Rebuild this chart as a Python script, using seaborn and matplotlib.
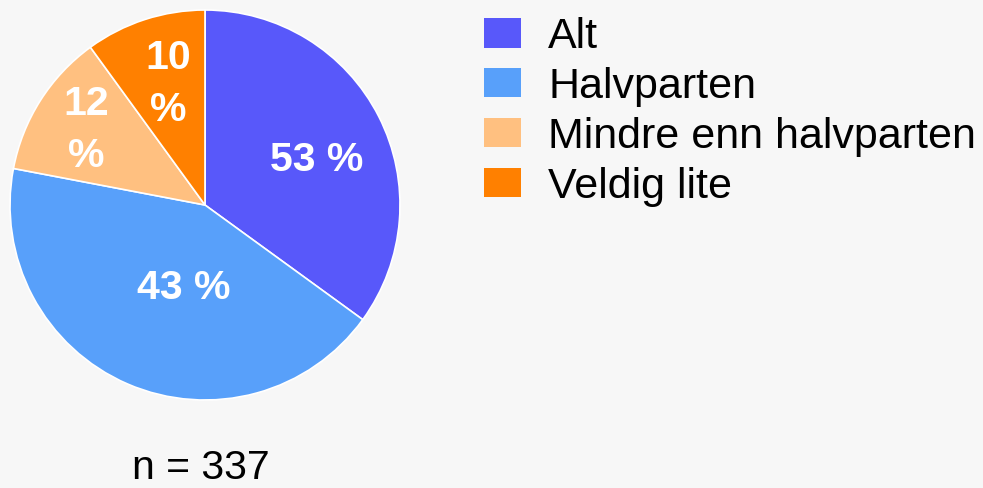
import matplotlib
matplotlib.use("Agg")
import matplotlib.pyplot as plt
import seaborn as sns
import numpy as np

categories = ["Alt", "Halvparten", "Mindre enn halvparten", "Veldig lite"]
values = [35, 43, 12, 10]           # slice sizes as drawn
pct_labels = ["53 %", "43 %", "12\n%", "10\n%"]  # label text as printed
sample_note = "n = 337"

colors = ["#5858FA", "#58A0FA", "#FFC080", "#FF8000"]
bg = "#F7F7F7"

sns.set_theme(style="white")
plt.rcParams["font.family"] = ["Liberation Sans", "DejaVu Sans"]
plt.rcParams["text.color"] = "black"

W, H = 983, 488
fig = plt.figure(figsize=(W / 100, H / 100), dpi=100)
fig.patch.set_facecolor(bg)

cx, cy, r = 205, 205, 195
ax = fig.add_axes([(cx - r) / W, (H - cy - r) / H, 2 * r / W, 2 * r / H])
ax.set_facecolor(bg)

wedges, texts = ax.pie(values, colors=sns.color_palette(colors),
                       startangle=90, counterclock=False, labels=pct_labels,
                       labeldistance=0.65,
                       wedgeprops=dict(edgecolor="white", linewidth=1.2),
                       textprops=dict(color="white", fontsize=29.5, fontweight="bold",
                                      ha="center", va="center", linespacing=1.45))
ax.set_xlim(-1, 1)
ax.set_ylim(-1, 1)
ax.set_aspect("equal")
ax.axis("off")

# per-slice label radius / angle offset (styling)
radii = [0.62, 0.44, 0.72, 0.65]
offsets = [-5, 9, 0, -1]
for w, t, rr, off in zip(wedges, texts, radii, offsets):
    mid = np.deg2rad((w.theta1 + w.theta2) / 2 + off)
    t.set_position((rr * np.cos(mid), rr * np.sin(mid)))
    t.set_multialignment("center")

leg = fig.legend(wedges, categories, loc="upper left",
                 bbox_to_anchor=(484 / W, 1 - 17 / H), frameon=False,
                 fontsize=31, borderpad=0, borderaxespad=0,
                 handlelength=0.86, handleheight=0.67, handletextpad=0.63,
                 labelspacing=0.23)
for h in leg.legend_handles:
    h.set_edgecolor("none")
for t in leg.get_texts():
    t.set_color("black")

fig.text(201 / W, (H - 479) / H, sample_note, ha="center", va="baseline",
         fontsize=29.5, color="black")

fig.savefig("out.png", dpi=100, facecolor=bg)
